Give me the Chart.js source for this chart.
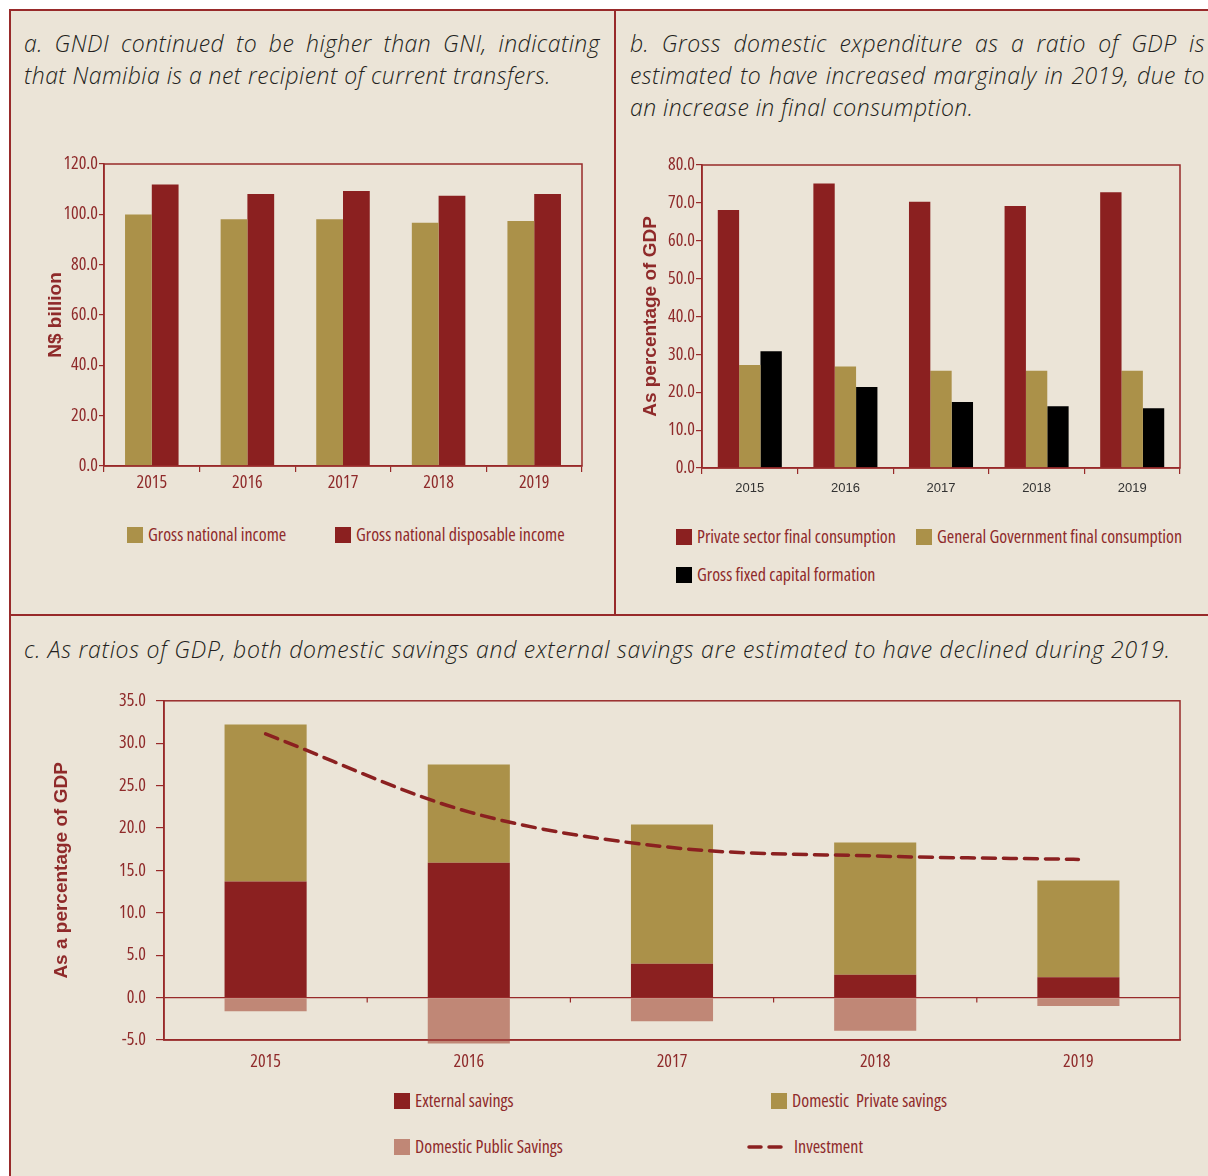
<!DOCTYPE html>
<html>
<head>
<meta charset="utf-8">
<script src="https://cdn.jsdelivr.net/npm/chart.js@4.4.1/dist/chart.umd.min.js"></script>
<style>
  html, body { margin: 0; padding: 0; background: #ffffff; }
  body { width: 1208px; height: 1176px; position: relative; overflow: hidden; }
  .sheet { position: absolute; left: 9px; top: 9px; width: 1199px; height: 1167px; background: #ebe4d7; }
  .rule { position: absolute; background: #982a2a; }
  .caption { position: absolute; font-family: "Open Sans", "Liberation Sans", sans-serif; font-style: italic; font-weight: 300;
             font-size: 23px; line-height: 32px; color: #231f20; letter-spacing: 0.75px; }
  .caption.narrow { letter-spacing: 0.45px; }
  .caption div { white-space: nowrap; }
  .caption div.full { text-align: justify; text-align-last: justify; }
  canvas { position: absolute; }
  .key { position: absolute; height: 18px; font-family: "Open Sans", sans-serif; font-stretch: 75%;
         font-size: 18px; line-height: 18px; color: #8f2a2a; white-space: nowrap; }
  .sw { position: absolute; left: 0; top: 1px; width: 16px; height: 16px; }
  .key span.t { position: absolute; left: 21px; top: -1px; }
</style>
</head>
<body>
<div class="sheet"></div>
<div class="rule" style="left:9px;top:9px;width:1199px;height:2px;"></div>
<div class="rule" style="left:9px;top:9px;width:2px;height:1167px;"></div>
<div class="rule" style="left:614px;top:9px;width:2px;height:607px;"></div>
<div class="rule" style="left:9px;top:614px;width:1199px;height:2px;"></div>

<div class="caption narrow" style="left:24px;top:27px;width:576px;">
  <div class="full">a. GNDI continued to be higher than GNI, indicating</div>
  <div>that Namibia is a net recipient of current transfers.</div>
</div>
<div class="caption narrow" style="left:630px;top:27px;width:575px;">
  <div class="full">b. Gross domestic expenditure as a ratio of GDP is</div>
  <div class="full">estimated to have increased marginaly in 2019, due to</div>
  <div>an increase in final consumption.</div>
</div>
<div class="caption" style="left:24px;top:633px;">
  <div>c. As ratios of GDP, both domestic savings and external savings are estimated to have declined during 2019.</div>
</div>

<canvas id="chartA" width="550" height="356" style="left:40px;top:150px;width:550px;height:356px;"></canvas>
<canvas id="chartB" width="553" height="352" style="left:635px;top:150px;width:553px;height:352px;"></canvas>
<canvas id="chartC" width="1142" height="400" style="left:46px;top:680px;width:1142px;height:400px;"></canvas>

<div class="key" style="left:127px;top:526px;"><div class="sw" style="background:#ab9149"></div><span class="t">Gross national income</span></div>
<div class="key" style="left:335px;top:526px;"><div class="sw" style="background:#8b2020"></div><span class="t">Gross national disposable income</span></div>

<div class="key" style="left:676px;top:528px;"><div class="sw" style="background:#8b2020"></div><span class="t">Private sector final consumption</span></div>
<div class="key" style="left:916px;top:528px;"><div class="sw" style="background:#ab9149"></div><span class="t">General Government final consumption</span></div>
<div class="key" style="left:676px;top:566px;"><div class="sw" style="background:#000000"></div><span class="t">Gross fixed capital formation</span></div>

<div class="key" style="left:394px;top:1092px;"><div class="sw" style="background:#8b2020"></div><span class="t">External savings</span></div>
<div class="key" style="left:771px;top:1092px;"><div class="sw" style="background:#ab9149"></div><span class="t">Domestic&nbsp; Private savings</span></div>
<div class="key" style="left:394px;top:1138px;"><div class="sw" style="background:#c08776"></div><span class="t">Domestic Public Savings</span></div>
<div class="key" style="left:747px;top:1138px;">
  <svg style="position:absolute;left:0;top:4px;" width="40" height="10"><line x1="2" y1="5" x2="36" y2="5" stroke="#8b2020" stroke-width="3.5" stroke-linecap="round" stroke-dasharray="12 8"/></svg>
  <span class="t" style="left:47px;">Investment</span>
</div>

<script>
// Years shared by all three panels
const years = ['2015', '2016', '2017', '2018', '2019'];

// a. Gross national income vs gross national disposable income (N$ billion)
const gni  = [99.9, 98.0, 98.0, 96.7, 97.4];
const gndi = [111.9, 108.1, 109.3, 107.4, 108.1];

// b. Expenditure components (% of GDP)
const privateConsumption = [68.1, 75.1, 70.3, 69.2, 72.8];
const governmentConsumption = [27.2, 26.8, 25.7, 25.7, 25.7];
const fixedCapitalFormation = [30.8, 21.4, 17.4, 16.3, 15.8];

// c. Savings and investment (% of GDP)
const externalSavings = [13.7, 15.9, 4.0, 2.7, 2.4];
const privateSavings  = [18.5, 11.6, 16.4, 15.6, 11.4];
const publicSavings   = [-1.6, -5.4, -2.8, -3.9, -1.0];
const investment      = [31.1, 21.9, 17.7, 16.7, 16.3];

const RED = '#8b2020';
const GOLD = '#ab9149';
const PINK = '#c08776';
const AXIS = '#982a2a';
const LABEL = '#8f2a2a';
const CONDENSED = "'Open Sans', sans-serif";
const SANS = '"Liberation Sans", Arial, sans-serif';
// condensed face of the variable Open Sans, passed through the font shorthand
const condFont = size => ({ family: CONDENSED, size, weight: 'condensed', lineHeight: 1.2 });

// Closes the plot frame on the top and right sides
const framePlugin = {
  id: 'frame',
  afterDatasetsDraw(chart) {
    const { ctx, chartArea: a } = chart;
    ctx.save();
    ctx.strokeStyle = AXIS;
    ctx.lineWidth = 1.5;
    ctx.strokeRect(a.left, a.top, a.right - a.left, a.bottom - a.top);
    ctx.restore();
  }
};

// Small category-boundary ticks hanging from the zero line
const zeroTicksPlugin = {
  id: 'zeroTicks',
  afterDatasetsDraw(chart) {
    const x = chart.scales.x, y = chart.scales.y;
    const y0 = y.getPixelForValue(0);
    const ctx = chart.ctx;
    ctx.save();
    ctx.strokeStyle = AXIS;
    ctx.lineWidth = 1.2;
    for (let i = 1; i < years.length; i++) {
      const xb = (x.getPixelForValue(i - 1) + x.getPixelForValue(i)) / 2;
      ctx.beginPath();
      ctx.moveTo(xb, y0);
      ctx.lineTo(xb, y0 + 5);
      ctx.stroke();
    }
    ctx.restore();
  }
};

function yAxis(min, max, step, width, titleText, tickLen, pad) {
  return {
    min, max,
    afterFit: s => { s.width = width; },
    ticks: { stepSize: step, color: LABEL, padding: pad, font: condFont(18),
             callback: v => Number(v).toFixed(1) },
    grid: { drawOnChartArea: false, drawTicks: true, tickLength: tickLen, tickColor: AXIS, lineWidth: 1.2 },
    border: { display: true, color: AXIS, width: 1.5 },
    title: { display: true, text: titleText, color: LABEL, font: { family: SANS, size: 19, weight: 'bold' }, padding: { top: 4, bottom: 4 } }
  };
}

function xAxis(height, font, color, pad) {
  return {
    afterFit: s => { s.height = height; },
    ticks: { color, padding: pad, font },
    grid: { offset: true, drawOnChartArea: false, drawTicks: true, tickLength: 6, tickColor: AXIS, lineWidth: 1.2 },
    border: { display: true, color: AXIS, width: 1.5 }
  };
}

const common = {
  responsive: false,
  animation: false,
  plugins: { legend: { display: false }, tooltip: { enabled: false } }
};

new Chart(document.getElementById('chartA'), {
  type: 'bar',
  data: {
    labels: years,
    datasets: [
      { label: 'Gross national income', data: gni, backgroundColor: GOLD, categoryPercentage: 0.56, barPercentage: 1 },
      { label: 'Gross national disposable income', data: gndi, backgroundColor: RED, categoryPercentage: 0.56, barPercentage: 1 }
    ]
  },
  options: {
    ...common,
    layout: { padding: { top: 14, right: 8, left: 0, bottom: 0 } },
    scales: {
      x: xAxis(40, condFont(18), LABEL, 0),
      y: yAxis(0, 120, 20, 64, 'N$ billion', 5, 1)
    }
  },
  plugins: [framePlugin]
});

new Chart(document.getElementById('chartB'), {
  type: 'bar',
  data: {
    labels: years,
    datasets: [
      { label: 'Private sector final consumption', data: privateConsumption, backgroundColor: RED, categoryPercentage: 0.67, barPercentage: 1 },
      { label: 'General Government final consumption', data: governmentConsumption, backgroundColor: GOLD, categoryPercentage: 0.67, barPercentage: 1 },
      { label: 'Gross fixed capital formation', data: fixedCapitalFormation, backgroundColor: '#000000', categoryPercentage: 0.67, barPercentage: 1 }
    ]
  },
  options: {
    ...common,
    layout: { padding: { top: 15, right: 8, left: 0, bottom: 0 } },
    scales: {
      x: xAxis(34, { family: SANS, size: 13 }, '#333333', 7),
      y: yAxis(0, 80, 10, 67, 'As percentage of GDP', 6, 1)
    }
  },
  plugins: [framePlugin]
});

// Panel c: only the zero line is drawn across the plot
const yC = yAxis(-5, 35, 5, 118, 'As a percentage of GDP', 8, 10);
yC.stacked = true;
yC.grid = {
  drawOnChartArea: true, drawTicks: true, tickLength: 8, tickColor: AXIS, lineWidth: 1.2,
  color: c => (c.tick && c.tick.value === 0 ? AXIS : 'rgba(0,0,0,0)')
};

new Chart(document.getElementById('chartC'), {
  type: 'bar',
  data: {
    labels: years,
    datasets: [
      { type: 'line', label: 'Investment', data: investment, stack: 'inv', order: 0,
        borderColor: RED, borderWidth: 3.5, borderDash: [13, 8], borderCapStyle: 'round',
        pointRadius: 0, pointHoverRadius: 0, fill: false, cubicInterpolationMode: 'monotone' },
      { label: 'External savings', data: externalSavings, backgroundColor: RED, stack: 's', order: 1,
        categoryPercentage: 0.404, barPercentage: 1 },
      { label: 'Domestic  Private savings', data: privateSavings, backgroundColor: GOLD, stack: 's', order: 1,
        categoryPercentage: 0.404, barPercentage: 1 },
      { label: 'Domestic Public Savings', data: publicSavings, backgroundColor: PINK, stack: 's', order: 1,
        categoryPercentage: 0.404, barPercentage: 1, clip: false }
    ]
  },
  options: {
    ...common,
    layout: { padding: { top: 0, right: 8, left: 0, bottom: 0 } },
    scales: {
      x: {
        stacked: true,
        afterFit: s => { s.height = 40; },
        ticks: { color: LABEL, padding: 11, font: condFont(18) },
        grid: { display: false, drawTicks: false },
        border: { display: true, color: AXIS, width: 1.5 }
      },
      y: yC
    }
  },
  plugins: [framePlugin, zeroTicksPlugin]
});
</script>
</body>
</html>
